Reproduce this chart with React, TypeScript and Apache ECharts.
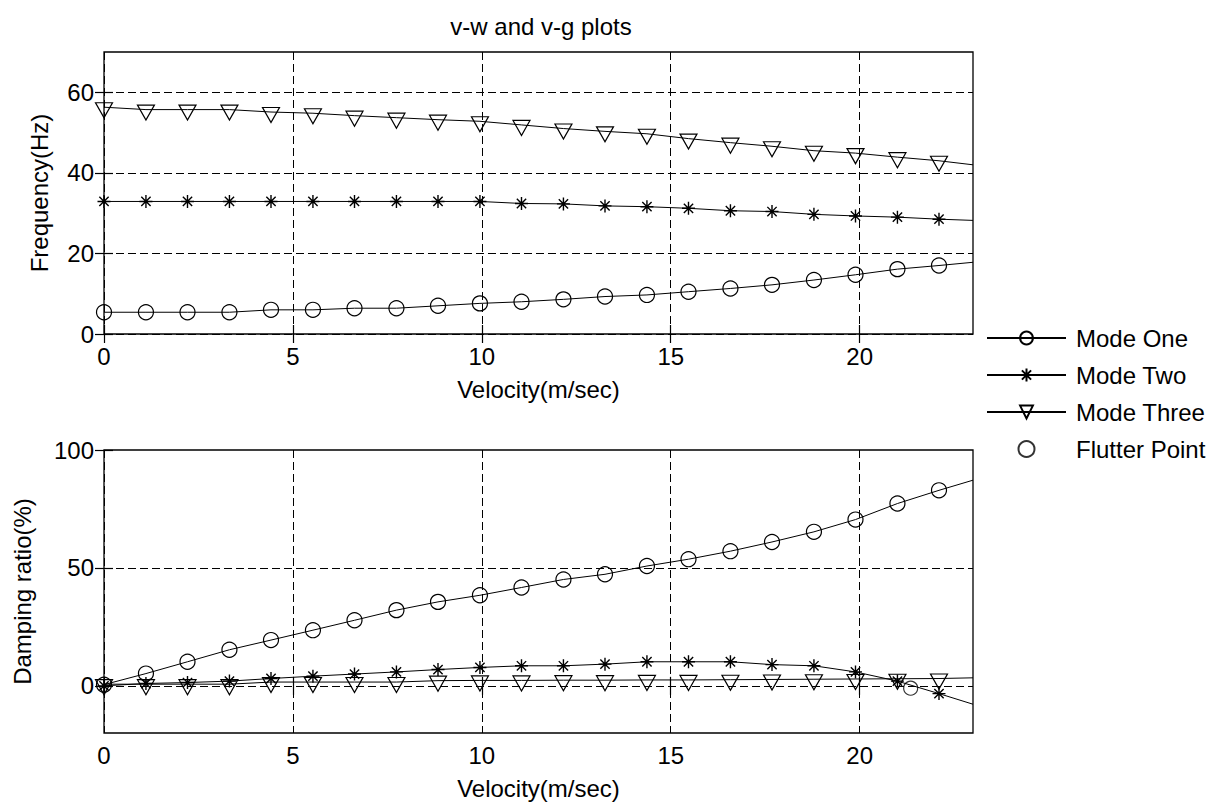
import React, { useEffect, useRef } from "react";
import * as echarts from "echarts";

// ---- data ----
const velocity = [0, 1.11, 2.21, 3.32, 4.42, 5.53, 6.63, 7.74, 8.84, 9.95, 11.05, 12.16, 13.26, 14.37, 15.47, 16.58, 17.68, 18.79, 19.89, 21.0, 22.1];
const velocityEnd = 23;

const freqModeOne = [5.4, 5.4, 5.4, 5.4, 6.0, 6.0, 6.4, 6.4, 7.0, 7.6, 8.0, 8.6, 9.3, 9.7, 10.5, 11.3, 12.2, 13.4, 14.7, 16.1, 17.0];
const freqModeOneEnd = 17.8;
const freqModeTwo = [32.9, 32.9, 32.9, 32.9, 32.9, 32.9, 32.9, 32.9, 32.9, 32.9, 32.4, 32.3, 31.8, 31.6, 31.2, 30.6, 30.4, 29.7, 29.3, 29.0, 28.5];
const freqModeTwoEnd = 28.2;
const freqModeThree = [56.3, 55.7, 55.7, 55.7, 55.1, 54.8, 54.2, 53.7, 53.2, 52.8, 51.9, 51.0, 50.3, 49.7, 48.5, 47.5, 46.6, 45.5, 44.9, 43.9, 43.0];
const freqModeThreeEnd = 42.0;

const dampModeOne = [0.5, 5.2, 10.2, 15.3, 19.4, 23.6, 27.8, 32.1, 35.6, 38.4, 41.7, 45.1, 47.3, 50.8, 53.7, 57.1, 61.0, 65.3, 70.5, 77.3, 82.9];
const dampModeOneEnd = 87.2;
const dampModeTwo = [0, 1.0, 1.4, 2.0, 3.1, 4.1, 5.0, 5.9, 6.9, 7.8, 8.5, 8.5, 9.2, 10.2, 10.2, 10.2, 9.0, 8.5, 5.9, 2.0, -3.3];
const dampModeTwoEnd = -7.8;
const dampModeThree = [0.7, 0.7, 0.7, 0.7, 1.6, 1.6, 1.6, 1.6, 2.2, 2.3, 2.3, 2.4, 2.4, 2.5, 2.5, 2.6, 2.7, 2.8, 2.9, 3.0, 3.1];
const dampModeThreeEnd = 3.4;

const flutterPoint = [21.35, -1.0];

const xTicks = [0, 5, 10, 15, 20];
const freqTicks = [0, 20, 40, 60];
const dampTicks = [0, 50, 100];
const dampGridLines = [0, 50];

const legendNames = ["Mode One", "Mode Two", "Mode Three", "Flutter Point"];

// ---- styling ----
const FONT = 'Arial, "Liberation Sans", sans-serif';
const FS = 24;
const DASH = [8, 4];

const CIRCLE = "circle";
const STAR = "path://M0,-6L0,6M-6,0L6,0M-4.3,-4.3L4.3,4.3M-4.3,4.3L4.3,-4.3";
const TRIANGLE = "path://M-8,-5L8,-5L0,9Z";

function lineData(ys: number[], end: number) {
  const d: any[] = velocity.map((v, i) => [v, ys[i]]);
  d.push({ value: [velocityEnd, end], symbol: "none" });
  return d;
}

function mkSeries(name: string, ys: number[], end: number, axis: number, sym: string) {
  const s: any = {
    name,
    type: "line",
    xAxisIndex: axis,
    yAxisIndex: axis,
    data: lineData(ys, end),
    symbol: sym,
    showSymbol: true,
    lineStyle: { color: "#000", width: 1 },
    itemStyle: { color: "transparent", borderColor: "#000", borderWidth: 1.2 },
    emphasis: { disabled: true },
    z: 3,
  };
  if (sym === CIRCLE) {
    s.symbolSize = 15;
  } else if (sym === STAR) {
    s.symbolSize = 13;
    s.itemStyle.borderWidth = 1.4;
  } else {
    s.symbolSize = [17, 15];
    s.symbolOffset = [0, 3];
  }
  return s;
}

function xAxisDef(grid: number, pos: "bottom" | "top") {
  const main = pos === "bottom";
  return {
    type: "value",
    gridIndex: grid,
    position: pos,
    min: 0,
    max: 23,
    interval: 5,
    name: main ? "Velocity(m/sec)" : "",
    nameLocation: "middle",
    nameGap: 43,
    nameTextStyle: { fontSize: FS, color: "#000", fontFamily: FONT },
    axisLine: { show: false },
    axisTick: { show: true, inside: true, length: 9, customValues: xTicks, lineStyle: { color: "#000", width: 1.2 } },
    axisLabel: { show: main, customValues: xTicks, margin: 10, fontSize: FS, color: "#000", fontFamily: FONT },
    splitLine: { show: main, lineStyle: { color: "#000", type: DASH, width: 1 } },
  };
}

function yAxisDef(grid: number, pos: "left" | "right", name: string, min: number, max: number, ticks: number[], gap: number, split: boolean) {
  const main = pos === "left";
  return {
    type: "value",
    gridIndex: grid,
    position: pos,
    min,
    max,
    interval: split ? 20 : undefined,
    name: main ? name : "",
    nameLocation: "middle",
    nameGap: gap,
    nameTextStyle: { fontSize: FS, color: "#000", fontFamily: FONT },
    axisLine: { show: false },
    axisTick: { show: true, inside: true, length: 9, customValues: ticks, lineStyle: { color: "#000", width: 1.2 } },
    axisLabel: { show: main, customValues: ticks, margin: 10, fontSize: FS, color: "#000", fontFamily: FONT },
    splitLine: { show: main && split, lineStyle: { color: "#000", type: DASH, width: 1 } },
  };
}

export default function App() {
  const ref = useRef<HTMLDivElement>(null);
  useEffect(() => {
    if (!ref.current) return;
    const chart = echarts.init(ref.current, undefined, { renderer: "svg" });
    const bottomOne = mkSeries("Mode One", dampModeOne, dampModeOneEnd, 2, CIRCLE);
    bottomOne.markLine = {
      silent: true,
      symbol: "none",
      label: { show: false },
      lineStyle: { color: "#000", type: DASH, width: 1 },
      emphasis: { disabled: true },
      data: dampGridLines.map((v) => ({ yAxis: v })),
      z: 1,
    };
    const option: any = {
      animation: false,
      backgroundColor: "#fff",
      textStyle: { fontFamily: FONT },
      title: {
        text: "v-w and v-g plots",
        left: 536,
        top: 9,
        textAlign: "center",
        textStyle: { fontSize: FS, fontWeight: "normal", color: "#000", fontFamily: FONT },
      },
      legend: {
        data: legendNames,
        orient: "vertical",
        left: 986,
        top: 326,
        padding: 0,
        itemWidth: 79,
        itemHeight: 16,
        itemGap: 13,
        selectedMode: false,
        textStyle: { fontSize: FS, color: "#000", fontFamily: FONT, padding: [0, 0, 0, 5], lineHeight: 24 },
      },
      grid: [
        { left: 104, top: 52, width: 869, height: 282, show: true, borderColor: "#000", borderWidth: 1.3, backgroundColor: "transparent" },
        { left: 104, top: 450, width: 869, height: 283, show: true, borderColor: "#000", borderWidth: 1.3, backgroundColor: "transparent" },
      ],
      xAxis: [xAxisDef(0, "bottom"), xAxisDef(0, "top"), xAxisDef(1, "bottom"), xAxisDef(1, "top")],
      yAxis: [
        yAxisDef(0, "left", "Frequency(Hz)", 0, 70, freqTicks, 53, true),
        yAxisDef(0, "right", "", 0, 70, freqTicks, 53, true),
        yAxisDef(1, "left", "Damping ratio(%)", -20, 100, dampTicks, 70, false),
        yAxisDef(1, "right", "", -20, 100, dampTicks, 70, false),
      ],
      series: [
        mkSeries("Mode One", freqModeOne, freqModeOneEnd, 0, CIRCLE),
        mkSeries("Mode Two", freqModeTwo, freqModeTwoEnd, 0, STAR),
        mkSeries("Mode Three", freqModeThree, freqModeThreeEnd, 0, TRIANGLE),
        bottomOne,
        mkSeries("Mode Two", dampModeTwo, dampModeTwoEnd, 2, STAR),
        mkSeries("Mode Three", dampModeThree, dampModeThreeEnd, 2, TRIANGLE),
        {
          name: "Flutter Point",
          type: "scatter",
          xAxisIndex: 2,
          yAxisIndex: 2,
          data: [flutterPoint],
          symbol: "circle",
          symbolSize: 14,
          itemStyle: { color: "transparent", borderColor: "#000", borderWidth: 1.2 },
          emphasis: { disabled: true },
          z: 4,
        },
      ],
    };
    chart.setOption(option);
    return () => chart.dispose();
  }, []);
  return (
    <div
      ref={ref}
      style={{ position: "absolute", left: 0, top: 0, width: 1223, height: 802, background: "#fff" }}
    />
  );
}
